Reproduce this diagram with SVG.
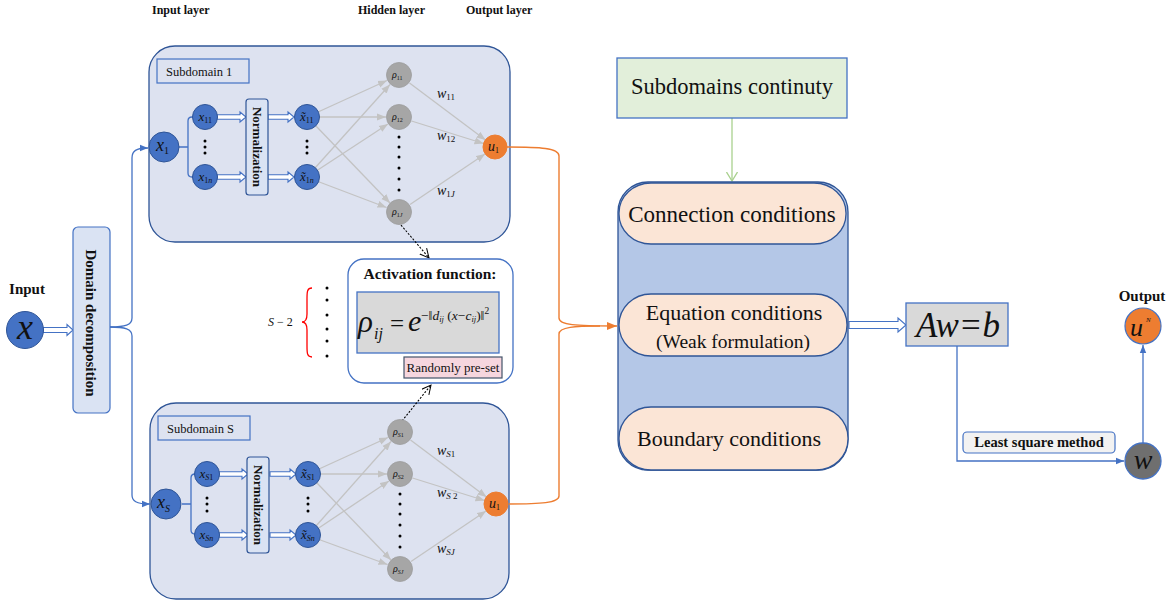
<svg xmlns="http://www.w3.org/2000/svg" width="1172" height="602" viewBox="0 0 1172 602">
<style>
text{font-family:"Liberation Serif","Times New Roman",serif;fill:#111}
.b{font-weight:bold}
.i{font-style:italic}
.sub{fill:#dde2f0;stroke:#2f5597;stroke-width:1.3}
.lbl{fill:#dde2f0;stroke:#4472c4;stroke-width:1.2}
.bn{fill:#4472c4;stroke:#2f5597;stroke-width:1}
.gn{fill:#a6a6a6;stroke:#9c9c9c;stroke-width:0.8}
.on{fill:#ed7d31;stroke:#ed7d31;stroke-width:1}
.norm{fill:#dae3f3;stroke:#2f5597;stroke-width:1.2}
.gl{stroke:#c3c3c3;stroke-width:1.3;fill:none;marker-end:url(#ag)}
.bl{stroke:#4472c4;stroke-width:1.3;fill:none}
.dbl{fill:#fff;stroke:#4472c4;stroke-width:1.1}
.ol{stroke:#ed7d31;stroke-width:1.4;fill:none}
.pill{fill:#fbe5d6;stroke:#2f5597;stroke-width:1.3}
.dot{fill:#000}
</style>
<defs>
<marker id="ag" markerWidth="9" markerHeight="8" refX="9" refY="4" orient="auto" markerUnits="userSpaceOnUse"><path d="M0,0.5 L9,4 L0,7.5 z" fill="#c3c3c3"/></marker>
<marker id="ab" markerWidth="8" markerHeight="8" refX="8" refY="4" orient="auto" markerUnits="userSpaceOnUse"><path d="M0,0.8 L8,4 L0,7.2 z" fill="#4472c4"/></marker>
<marker id="ao" markerWidth="10" markerHeight="10" refX="10" refY="5" orient="auto" markerUnits="userSpaceOnUse"><path d="M0,1 L10,5 L0,9 z" fill="#ed7d31"/></marker>
<marker id="agr" markerWidth="10" markerHeight="12" refX="9" refY="6" orient="auto" markerUnits="userSpaceOnUse"><path d="M0,0.5 L9,6 L0,11.5" fill="none" stroke="#a9d18e" stroke-width="1.3"/></marker>
<marker id="ak" markerWidth="10" markerHeight="10" refX="9" refY="5" orient="auto" markerUnits="userSpaceOnUse"><path d="M0,0.5 L9,5 L0,9.5" fill="none" stroke="#000" stroke-width="1"/></marker>
<marker id="ar" markerWidth="10" markerHeight="12" refX="9" refY="6" orient="auto" markerUnits="userSpaceOnUse"><path d="M0,0.5 L9,6 L0,11.5" fill="none" stroke="#ff0000" stroke-width="1.4"/></marker>
</defs>

<rect width="1172" height="602" fill="#fff"/>

<!-- layer titles -->
<g id="layer-titles">
<text x="152" y="14" font-size="12" class="b">Input layer</text>
<text x="358" y="14" font-size="12" class="b">Hidden layer</text>
<text x="466" y="14" font-size="12" class="b">Output layer</text>
</g>

<!-- subdomain containers -->
<g id="subdomain-1-box">
<rect class="sub" x="149" y="46" width="361" height="196" rx="26"/>
<rect class="lbl" x="157" y="59" width="92" height="24"/>
<text x="166" y="76" font-size="12.5">Subdomain 1</text>
</g>
<g id="subdomain-S-box">
<rect class="sub" x="150" y="403" width="359" height="196" rx="26"/>
<rect class="lbl" x="158" y="416" width="92" height="24"/>
<text x="167" y="433" font-size="12.5">Subdomain S</text>
</g>

<!-- connectors -->
<g id="connectors">
<polygon class="dbl" points="43,327.5 67,327.5 67,324.5 73,330 67,335.5 67,332.5 43,332.5"/>
<path class="bl" d="M110,327 C125,327 132,325 132,318 V158 C132,151 136,148 148,148" marker-end="url(#ab)"/>
<path class="bl" d="M110,327 C125,327 132,329 132,336 V495 C132,501 136,504 150,504" marker-end="url(#ab)"/>

<g id="connectors-sub1">
<path class="bl" d="M179,147 H188 M193,117 H192 Q188,117 188,121 V173 Q188,177 192,177 H193"/>
<polygon class="dbl" points="217,114.8 240,114.8 240,112 246,117 240,122 240,119.2 217,119.2"/>
<polygon class="dbl" points="217,174.8 240,174.8 240,172 246,177 240,182 240,179.2 217,179.2"/>
<polygon class="dbl" points="268,114.8 288,114.8 288,112 294,117 288,122 288,119.2 268,119.2"/>
<polygon class="dbl" points="268,174.8 288,174.8 288,172 294,177 288,182 288,179.2 268,179.2"/>
<line class="gl" x1="318" y1="112" x2="387" y2="80.5"/>
<line class="gl" x1="319" y1="117" x2="386" y2="117"/>
<line class="gl" x1="315.5" y1="125.5" x2="390" y2="203"/>
<line class="gl" x1="315" y1="168" x2="390" y2="84.5"/>
<line class="gl" x1="317" y1="170.5" x2="388" y2="124"/>
<line class="gl" x1="318" y1="181.5" x2="386.5" y2="207.5"/>
<line class="gl" x1="409.5" y1="83" x2="485.5" y2="140"/>
<line class="gl" x1="411.5" y1="121" x2="483.5" y2="143.5"/>
<line class="gl" x1="410" y1="204.5" x2="485" y2="154"/>
</g>
<g id="connectors-subS" transform="translate(1,357)">
<path class="bl" d="M180,147 H189 M194,117 H193 Q189,117 189,121 V173 Q189,177 193,177 H194" transform="translate(1,0)"/>
<polygon class="dbl" points="218,114.8 241,114.8 241,112 247,117 241,122 241,119.2 218,119.2"/>
<polygon class="dbl" points="218,175.8 241,175.8 241,173 247,178 241,183 241,180.2 218,180.2"/>
<polygon class="dbl" points="269,114.8 289,114.8 289,112 295,117 289,122 289,119.2 269,119.2"/>
<polygon class="dbl" points="269,175.8 289,175.8 289,173 295,178 289,183 289,180.2 269,180.2"/>
<line class="gl" x1="318" y1="112" x2="387" y2="80.5"/>
<line class="gl" x1="319" y1="117" x2="386" y2="117"/>
<line class="gl" x1="315.5" y1="125.5" x2="390" y2="203"/>
<line class="gl" x1="315" y1="169" x2="390" y2="84.5"/>
<line class="gl" x1="317" y1="171.5" x2="388" y2="124"/>
<line class="gl" x1="318" y1="182.5" x2="386.5" y2="207.5"/>
<line class="gl" x1="409.5" y1="83" x2="485.5" y2="140"/>
<line class="gl" x1="411.5" y1="121" x2="483.5" y2="143.5"/>
<line class="gl" x1="410" y1="204.5" x2="485" y2="154"/>
</g>

<path d="M401,225 L429,258" stroke="#000" stroke-width="1.1" stroke-dasharray="2,1.6" fill="none" marker-end="url(#ak)"/>
<path d="M402,421 L431,385" stroke="#000" stroke-width="1.1" stroke-dasharray="2,1.6" fill="none" marker-end="url(#ak)"/>

<path class="ol" d="M507,147 C540,147 559,148 559,156 V318 C559,325 575,326 617,326" marker-end="url(#ao)"/>
<path class="ol" d="M509,504 C540,504 559,503 559,496 V334 C559,327 575,326 600,326"/>

<path d="M732,118 V181" stroke="#a9d18e" stroke-width="1.3" fill="none" marker-end="url(#agr)"/>

<polygon class="dbl" points="849,321.5 898,321.5 898,318 906,325 898,332 898,328.5 849,328.5"/>

<path class="bl" d="M957,346 V461 H1124" marker-end="url(#ab)"/>
<path class="bl" d="M1143,443 V345" marker-end="url(#ab)"/>

<path d="M435,357 V326" stroke="#ff0000" stroke-width="1.4" fill="none" marker-end="url(#ar)"/>
<path d="M472,357 V326" stroke="#ff0000" stroke-width="1.4" fill="none" marker-end="url(#ar)"/>
</g>

<g id="input-node">
<text x="27" y="294" font-size="15" class="b" text-anchor="middle">Input</text>
<circle class="bn" cx="25" cy="330" r="18.5"/>
<text x="25" y="339" font-size="36" class="i" text-anchor="middle">x</text>
</g>

<g id="domain-decomposition">
<rect class="norm" x="73" y="227" width="37" height="186" rx="5" style="stroke:#4472c4"/>
<text transform="translate(91,323) rotate(90)" y="5" font-size="15" class="b" text-anchor="middle">Domain decomposition</text>
</g>

<!-- Subdomain 1 nodes -->
<g id="sub1-x1"><circle class="bn" cx="164" cy="147" r="15"/><text x="156" y="151" font-size="18" class="i">x<tspan font-size="10" dy="3" font-style="normal">1</tspan></text></g>
<g id="sub1-x11"><circle class="bn" cx="205" cy="117" r="12.5"/><text x="198.5" y="121" font-size="13" class="i">x<tspan font-size="8" dy="2" font-style="normal">11</tspan></text></g>
<g id="sub1-dots-in"><circle class="dot" cx="205" cy="141" r="1.5"/><circle class="dot" cx="205" cy="147" r="1.5"/><circle class="dot" cx="205" cy="153" r="1.5"/></g>
<g id="sub1-x1n"><circle class="bn" cx="205" cy="177" r="12.5"/><text x="198.5" y="181" font-size="13" class="i">x<tspan font-size="8" dy="2"><tspan font-style="normal">1</tspan>n</tspan></text></g>
<g id="sub1-norm"><rect class="norm" x="246" y="99" width="22" height="96" rx="3"/><text transform="translate(257,147) rotate(90)" y="4.5" font-size="13" class="b" text-anchor="middle">Normalization</text></g>
<g id="sub1-xt11"><circle class="bn" cx="307" cy="117" r="12.5"/><text x="300" y="121" font-size="13" class="i">x̃<tspan font-size="8" dy="2" font-style="normal">11</tspan></text></g>
<g id="sub1-dots-norm"><circle class="dot" cx="307" cy="141" r="1.5"/><circle class="dot" cx="307" cy="147" r="1.5"/><circle class="dot" cx="307" cy="153" r="1.5"/></g>
<g id="sub1-xt1n"><circle class="bn" cx="307" cy="177" r="12.5"/><text x="300" y="181" font-size="13" class="i">x̃<tspan font-size="8" dy="2"><tspan font-style="normal">1</tspan>n</tspan></text></g>
<g id="sub1-rho11"><circle class="gn" cx="399" cy="75" r="12.5"/><text x="392" y="78" font-size="10" class="i">ρ<tspan font-size="6" dy="1.5" font-style="normal">11</tspan></text></g>
<g id="sub1-rho12"><circle class="gn" cx="399" cy="117" r="12.5"/><text x="392" y="120" font-size="10" class="i">ρ<tspan font-size="6" dy="1.5" font-style="normal">12</tspan></text></g>
<g id="sub1-dots-hidden"><circle class="dot" cx="399" cy="137" r="1.5"/><circle class="dot" cx="399" cy="147" r="1.5"/><circle class="dot" cx="399" cy="157" r="1.5"/><circle class="dot" cx="399" cy="168" r="1.5"/><circle class="dot" cx="399" cy="179" r="1.5"/><circle class="dot" cx="399" cy="190" r="1.5"/></g>
<g id="sub1-rho1J"><circle class="gn" cx="399" cy="212" r="12.5"/><text x="392" y="215" font-size="10" class="i">ρ<tspan font-size="6" dy="1.5"><tspan font-style="normal">1</tspan>J</tspan></text></g>
<g id="sub1-u1"><circle class="on" cx="495" cy="147" r="12"/><text x="488" y="151" font-size="14" class="i">u<tspan font-size="8" dy="2" font-style="normal">1</tspan></text></g>
<g id="sub1-weights" fill="#222">
<text x="437" y="98" font-size="14" class="i">w<tspan font-size="9" dy="2" font-style="normal">11</tspan></text>
<text x="437" y="140" font-size="14" class="i">w<tspan font-size="9" dy="2" font-style="normal">12</tspan></text>
<text x="437" y="195" font-size="14" class="i">w<tspan font-size="9" dy="2"><tspan font-style="normal">1</tspan>J</tspan></text>
</g>

<!-- Subdomain S nodes -->
<g id="subS-xS"><circle class="bn" cx="166" cy="504" r="15"/><text x="157" y="508" font-size="18" class="i">x<tspan font-size="10" dy="4">S</tspan></text></g>
<g id="subS-xS1"><circle class="bn" cx="207" cy="474" r="12.5"/><text x="199.5" y="478" font-size="13" class="i">x<tspan font-size="8" dy="2">S<tspan font-style="normal">1</tspan></tspan></text></g>
<g id="subS-dots-in"><circle class="dot" cx="207" cy="498" r="1.5"/><circle class="dot" cx="207" cy="504" r="1.5"/><circle class="dot" cx="207" cy="511" r="1.5"/></g>
<g id="subS-xSn"><circle class="bn" cx="207" cy="535" r="12.5"/><text x="199.5" y="539" font-size="13" class="i">x<tspan font-size="8" dy="2">Sn</tspan></text></g>
<g id="subS-norm"><rect class="norm" x="247" y="457" width="22" height="96" rx="3"/><text transform="translate(258,505) rotate(90)" y="4.5" font-size="13" class="b" text-anchor="middle">Normalization</text></g>
<g id="subS-xtS1"><circle class="bn" cx="308" cy="474" r="12.5"/><text x="301" y="478" font-size="13" class="i">x̃<tspan font-size="8" dy="2">S<tspan font-style="normal">1</tspan></tspan></text></g>
<g id="subS-dots-norm"><circle class="dot" cx="308" cy="498" r="1.5"/><circle class="dot" cx="308" cy="504" r="1.5"/><circle class="dot" cx="308" cy="511" r="1.5"/></g>
<g id="subS-xtSn"><circle class="bn" cx="308" cy="535" r="12.5"/><text x="301" y="539" font-size="13" class="i">x̃<tspan font-size="8" dy="2">Sn</tspan></text></g>
<g id="subS-rhoS1"><circle class="gn" cx="400" cy="432" r="12.5"/><text x="393" y="435" font-size="10" class="i">ρ<tspan font-size="6" dy="1.5">S<tspan font-style="normal">1</tspan></tspan></text></g>
<g id="subS-rhoS2"><circle class="gn" cx="400" cy="474" r="12.5"/><text x="393" y="477" font-size="10" class="i">ρ<tspan font-size="6" dy="1.5">S<tspan font-style="normal">2</tspan></tspan></text></g>
<g id="subS-dots-hidden"><circle class="dot" cx="400" cy="494" r="1.5"/><circle class="dot" cx="400" cy="504" r="1.5"/><circle class="dot" cx="400" cy="514" r="1.5"/><circle class="dot" cx="400" cy="525" r="1.5"/><circle class="dot" cx="400" cy="536" r="1.5"/><circle class="dot" cx="400" cy="547" r="1.5"/></g>
<g id="subS-rhoSJ"><circle class="gn" cx="400" cy="569" r="12.5"/><text x="393" y="572" font-size="10" class="i">ρ<tspan font-size="6" dy="1.5">SJ</tspan></text></g>
<g id="subS-u1"><circle class="on" cx="496" cy="504" r="12"/><text x="489" y="508" font-size="14" class="i">u<tspan font-size="8" dy="2" font-style="normal">1</tspan></text></g>
<g id="subS-weights">
<text x="437" y="455" font-size="14" class="i">w<tspan font-size="9" dy="2">S<tspan font-style="normal">1</tspan></tspan></text>
<text x="437" y="497" font-size="14" class="i">w<tspan font-size="9" dy="2">S<tspan font-style="normal"> 2</tspan></tspan></text>
<text x="437" y="553" font-size="14" class="i">w<tspan font-size="9" dy="2">SJ</tspan></text>
</g>

<g id="s-minus-2">
<text x="268" y="326" font-size="12"><tspan font-style="italic">S</tspan> − 2</text>
<path d="M312,288 C307,288 307,292 307,299 V314 C307,319 306,322 302,322 C306,322 307,325 307,330 V346 C307,353 307,357 312,357" fill="none" stroke="#ff0000" stroke-width="1.3"/>
<circle class="dot" cx="327" cy="288" r="1.5"/><circle class="dot" cx="327" cy="300" r="1.5"/><circle class="dot" cx="327" cy="315" r="1.5"/><circle class="dot" cx="327" cy="329" r="1.5"/><circle class="dot" cx="327" cy="341" r="1.5"/><circle class="dot" cx="327" cy="356" r="1.5"/>
</g>

<g id="activation-function">
<rect x="348" y="259" width="165" height="124" rx="16" fill="#fff" stroke="#4472c4" stroke-width="1.3"/>
<text x="430" y="279" font-size="15.5" class="b" text-anchor="middle">Activation function:</text>
<rect x="357" y="292" width="142" height="61" fill="#d9d9d9" stroke="#4472c4" stroke-width="1.3"/>
<text x="358" y="332" font-size="31" class="i">ρ</text>
<text x="374" y="339" font-size="16" class="i">ij</text>
<text x="390" y="332" font-size="25">=</text>
<text x="408" y="331" font-size="30" class="i">e</text>
<text x="421" y="320" font-size="13.5">−‖<tspan font-style="italic">d</tspan><tspan font-size="8.5" dy="2" font-style="italic">ij</tspan><tspan dy="-2"> (</tspan><tspan font-style="italic">x</tspan>−<tspan font-style="italic">c</tspan><tspan font-size="8.5" dy="2" font-style="italic">ij</tspan><tspan dy="-2">)‖</tspan><tspan font-size="9.5" dy="-6">2</tspan></text>
</g>
<g id="randomly-preset">
<rect x="404" y="357" width="98" height="21" fill="#f6d6de" stroke="#44546a" stroke-width="1.2"/>
<text x="453" y="372" font-size="13" text-anchor="middle">Randomly pre-set</text>
</g>

<g id="subdomains-continuity">
<rect x="617" y="58" width="230" height="60" fill="#e2efda" stroke="#4472c4" stroke-width="1.3"/>
<text x="732" y="94" font-size="22.5" text-anchor="middle">Subdomains continuty</text>
</g>

<g id="conditions">
<rect x="618" y="182" width="230" height="288" rx="30" fill="#b4c7e7" stroke="#2f5597" stroke-width="1.3"/>
</g>
<g id="connection-conditions">
<rect class="pill" x="619" y="183" width="227" height="61" rx="32" ry="30"/>
<text x="732" y="222" font-size="23" text-anchor="middle">Connection conditions</text>
</g>
<g id="equation-conditions">
<rect class="pill" x="619" y="294" width="228" height="62" rx="32" ry="31"/>
<text x="734" y="320" font-size="22" text-anchor="middle">Equation conditions</text>
<text x="733" y="348" font-size="19.5" text-anchor="middle">(Weak formulation)</text>
</g>
<g id="boundary-conditions">
<rect class="pill" x="619" y="407" width="229" height="63" rx="32" ry="31"/>
<text x="729" y="446" font-size="22" text-anchor="middle">Boundary conditions</text>
</g>

<g id="aw-b">
<rect x="906" y="303" width="102" height="43" fill="#d9d9d9" stroke="#4472c4" stroke-width="1.3"/>
<text x="958" y="337" font-size="35" class="i" text-anchor="middle">Aw=b</text>
</g>

<g id="least-square">
<rect x="963" y="432" width="152" height="21" rx="4" fill="#f2f2f2" stroke="#4472c4" stroke-width="1.2"/>
<text x="1039" y="447" font-size="14.5" class="b" text-anchor="middle">Least square method</text>
</g>

<g id="w-node">
<circle cx="1143" cy="461" r="18" fill="#6f6f6f" stroke="#4472c4" stroke-width="1.3"/>
<text x="1143" y="469" font-size="28" class="i" text-anchor="middle">w</text>
</g>

<g id="output-node">
<text x="1142" y="301" font-size="15" class="b" text-anchor="middle">Output</text>
<circle class="on" cx="1143" cy="326" r="18" style="stroke:#4472c4;stroke-width:1.2"/>
<text x="1130" y="336" font-size="26" class="i">u</text>
<text x="1146" y="322" font-size="7" class="i">N</text>
</g>
</svg>
